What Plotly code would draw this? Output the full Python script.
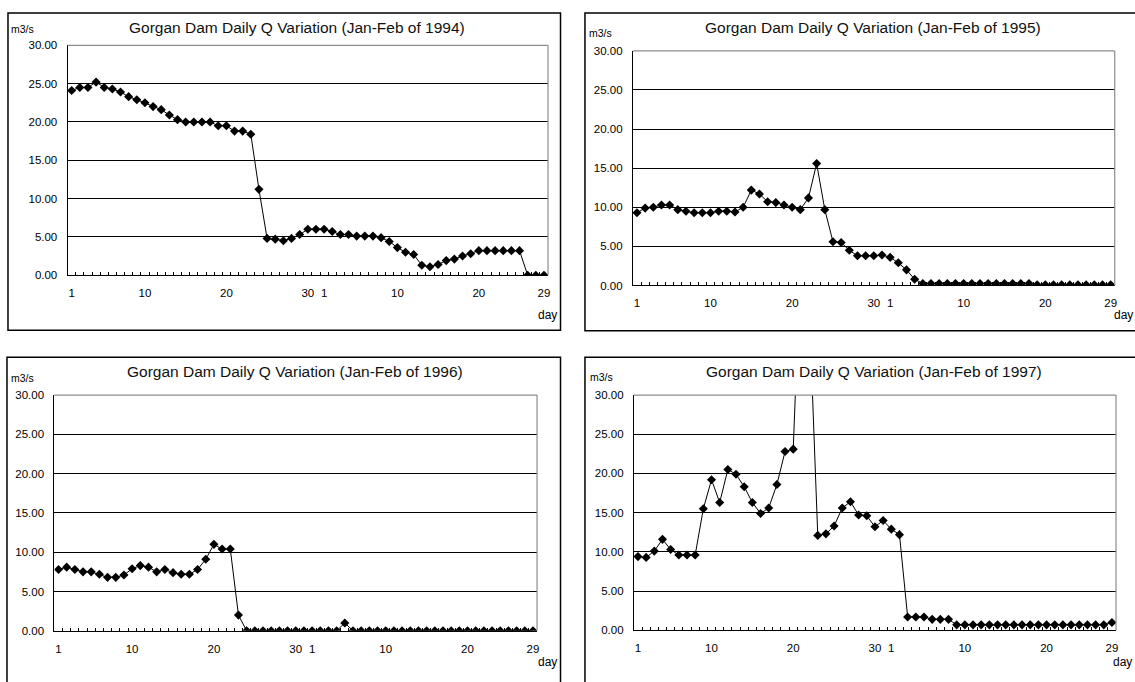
import plotly.graph_objects as go

W, H = 1135, 682

# ---- data (daily discharge, m3/s), Jan 1 .. end of Feb: 59 daily values ----
day_index = list(range(59))
tick_pos = [0, 9, 19, 29, 31, 40, 50, 58]
tick_text = ["1", "10", "20", "30", "1", "10", "20", "29"]

q1994 = [24.1, 24.5, 24.5, 25.2, 24.5, 24.3, 23.9, 23.3, 22.9, 22.5,
         22.0, 21.6, 20.9, 20.3, 20.0, 20.0, 20.0, 20.0, 19.5, 19.5,
         18.8, 18.8, 18.4, 11.2, 4.8, 4.7, 4.5, 4.8, 5.3, 6.0,
         6.0, 6.0, 5.7, 5.3, 5.3, 5.1, 5.1, 5.1, 4.9, 4.4,
         3.6, 3.0, 2.7, 1.3, 1.1, 1.4, 1.9, 2.1, 2.5, 2.8,
         3.2, 3.2, 3.2, 3.2, 3.2, 3.2, 0.0, 0.0, 0.0]

q1995 = [9.3, 9.9, 10.0, 10.3, 10.3, 9.7, 9.5, 9.3, 9.3, 9.3,
         9.5, 9.5, 9.4, 10.0, 12.2, 11.7, 10.7, 10.6, 10.3, 10.0,
         9.7, 11.2, 15.6, 9.7, 5.6, 5.5, 4.5, 3.8, 3.8, 3.8,
         3.9, 3.6, 2.9, 2.0, 0.8, 0.25, 0.25, 0.25, 0.25, 0.25,
         0.25, 0.25, 0.25, 0.25, 0.25, 0.25, 0.25, 0.25, 0.25, 0.1,
         0.1, 0.1, 0.1, 0.1, 0.1, 0.1, 0.1, 0.1, 0.1]

q1996 = [7.8, 8.1, 7.8, 7.5, 7.5, 7.2, 6.8, 6.8, 7.1, 7.9,
         8.3, 8.1, 7.5, 7.8, 7.4, 7.2, 7.2, 7.8, 9.1, 11.0,
         10.4, 10.4, 2.0, 0.0, 0.0, 0.0, 0.0, 0.0, 0.0, 0.0,
         0.0, 0.0, 0.0, 0.0, 0.0, 1.0, 0.0, 0.0, 0.0, 0.0,
         0.0, 0.0, 0.0, 0.0, 0.0, 0.0, 0.0, 0.0, 0.0, 0.0,
         0.0, 0.0, 0.0, 0.0, 0.0, 0.0, 0.0, 0.0, 0.0]

q1997 = [9.4, 9.3, 10.1, 11.6, 10.3, 9.6, 9.6, 9.6, 15.5, 19.2,
         16.3, 20.5, 19.9, 18.3, 16.3, 14.9, 15.6, 18.6, 22.8, 23.1,
         50.0, 40.0, 12.1, 12.3, 13.3, 15.6, 16.4, 14.7, 14.6, 13.2,
         14.0, 12.9, 12.2, 1.7, 1.7, 1.7, 1.4, 1.4, 1.4, 0.7,
         0.7, 0.7, 0.7, 0.7, 0.7, 0.7, 0.7, 0.7, 0.7, 0.7,
         0.7, 0.7, 0.7, 0.7, 0.7, 0.7, 0.7, 0.7, 1.0]

years = ["1994", "1995", "1996", "1997"]
series = [q1994, q1995, q1996, q1997]

# ---- layout geometry (pixels) ----
plot_boxes = [  # x0, x1, y0(top), y1(bottom)
    (67.7, 549.0, 40.0, 274.0),
    (634.0, 1116.7, 45.7, 284.5),
    (54.5, 538.0, 396.0, 636.0),
    (635.0, 1118.0, 396.0, 635.5),
]
frames = [
    (8, 561.5, 7, 330),
    (586, 1150, 7, 330.5),
    (7, 561.5, 357.5, 700),
    (586, 1150, 357.5, 700),
]
title_pos = [(298, 22), (875, 22), (296, 372), (876, 372)]
unit_pos = [(9, 23), (588, 27), (9, 379), (589, 378)]
day_pos = [(548, 315), (1125, 315), (548, 668), (1124, 668)]


def px(x):
    return x / W


def py(y):
    return 1 - y / H


FONT = "Arial, Liberation Sans, sans-serif"
fig = go.Figure()
layout = dict(
    width=W, height=H, autosize=False,
    margin=dict(l=0, r=0, t=0, b=0),
    paper_bgcolor="white", plot_bgcolor="white",
    showlegend=False,
    font=dict(family=FONT, color="black"),
)
shapes = []
annotations = []
minor_vals = [i - 0.5 for i in range(1, len(day_index))]

for k, (yr, q) in enumerate(zip(years, series)):
    n = "" if k == 0 else str(k + 1)
    xa, ya = "x" + n, "y" + n
    x0, x1, y0, y1 = plot_boxes[k]
    fig.add_trace(go.Scatter(
        x=day_index, y=q, xaxis=xa, yaxis=ya, mode="lines+markers",
        line=dict(color="black", width=1),
        marker=dict(symbol="diamond", size=7, color="black"),
        hoverinfo="skip"))
    layout["xaxis" + n] = dict(
        domain=[px(x0), px(x1)], anchor=ya, range=[-0.5, len(day_index) - 0.5],
        tickmode="array", tickvals=tick_pos, ticktext=tick_text, ticks="",
        ticklabelstandoff=7,
        showline=True, linecolor="black", linewidth=1, showgrid=False, zeroline=False,
        tickfont=dict(size=11.5, family=FONT, color="black"),
        minor=dict(tickmode="array", tickvals=minor_vals, ticks="inside", ticklen=3,
                   tickcolor="black", tickwidth=1, showgrid=False),
        fixedrange=True)
    layout["yaxis" + n] = dict(
        domain=[py(y1), py(y0)], anchor=xa, range=[0, 30],
        tickmode="array", tickvals=[0, 5, 10, 15, 20, 25, 30], tickformat=".2f",
        ticks="", ticklabelstandoff=7,
        showline=True, linecolor="black", linewidth=1,
        showgrid=True, gridcolor="black", gridwidth=1, zeroline=False,
        tickfont=dict(size=11.5, family=FONT, color="black"),
        fixedrange=True)
    # grey top/right plot-area border
    shapes.append(dict(type="line", xref=xa + " domain", yref=ya + " domain",
                       x0=0, x1=1, y0=1, y1=1, line=dict(color="#8c8c8c", width=1.2),
                       layer="above"))
    shapes.append(dict(type="line", xref=xa + " domain", yref=ya + " domain",
                       x0=1, x1=1, y0=0, y1=1, line=dict(color="#8c8c8c", width=1.2),
                       layer="above"))
    # chart-area frame
    fx0, fx1, fy0, fy1 = frames[k]
    shapes.append(dict(type="rect", xref="paper", yref="paper",
                       x0=px(fx0), x1=px(fx1), y0=py(fy1), y1=py(fy0),
                       line=dict(color="black", width=1.5), fillcolor="rgba(0,0,0,0)"))
    tx, ty = title_pos[k]
    annotations.append(dict(text="Gorgan Dam Daily Q Variation (Jan-Feb of %s)" % yr,
                            x=px(tx), y=py(ty), xref="paper", yref="paper",
                            xanchor="center", yanchor="middle", showarrow=False,
                            font=dict(size=15.5, family=FONT, color="#111111")))
    ux, uy = unit_pos[k]
    annotations.append(dict(text="m3/s", x=px(ux), y=py(uy), xref="paper", yref="paper",
                            xanchor="left", yanchor="middle", showarrow=False,
                            font=dict(size=10.5, family=FONT, color="black")))
    dx, dy = day_pos[k]
    annotations.append(dict(text="day", x=px(dx), y=py(dy), xref="paper", yref="paper",
                            xanchor="center", yanchor="middle", showarrow=False,
                            font=dict(size=12, family=FONT, color="black")))

layout["shapes"] = shapes
layout["annotations"] = annotations
fig.update_layout(**layout)

# place the figure flush with the page's top-left corner (no default body margin)
post = (
    "document.documentElement.style.margin='0';"
    "document.documentElement.style.overflow='hidden';"
    "document.body.style.margin='0';"
    "document.body.style.overflow='hidden';"
    "var d=document.getElementById('{plot_id}');"
    "d.style.position='absolute';d.style.left='0px';d.style.top='0px';"
)
fig.write_html("out.html", post_script=post,
               config={"displayModeBar": False, "staticPlot": True})
